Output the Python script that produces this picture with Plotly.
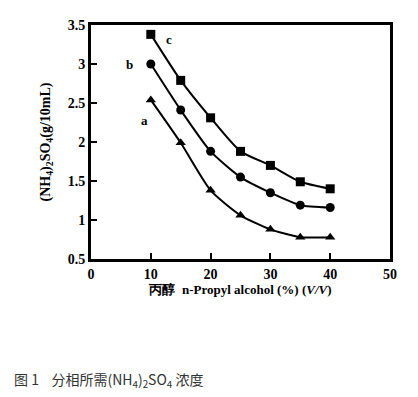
import plotly.graph_objects as go

x_vals = [10, 15, 20, 25, 30, 35, 40]
series_a = [2.54, 1.99, 1.38, 1.06, 0.88, 0.78, 0.78]
series_b = [3.00, 2.41, 1.88, 1.55, 1.35, 1.19, 1.16]
series_c = [3.38, 2.79, 2.31, 1.88, 1.70, 1.49, 1.40]
x_ticks = [0, 10, 20, 30, 40, 50]
y_ticks = [0.5, 1, 1.5, 2, 2.5, 3, 3.5]
y_tick_text = ["0.5", "1", "1.5", "2", "2.5", "3", "3.5"]

font_serif = "Liberation Serif, Times New Roman, serif"

fig = go.Figure()
for ys, sym in [(series_c, "square"), (series_b, "circle"), (series_a, "triangle-up")]:
    fig.add_trace(go.Scatter(
        x=x_vals, y=ys, mode="lines+markers",
        line=dict(color="black", width=2, shape="spline", smoothing=0.6),
        marker=dict(symbol=sym, size=9, color="black"),
        showlegend=False, hoverinfo="skip"))

for txt, xx, yy in [("c", 13, 3.32), ("b", 6.5, 3.0), ("a", 9, 2.28)]:
    fig.add_annotation(x=xx, y=yy, text="<b>" + txt + "</b>", showarrow=False,
                       font=dict(family=font_serif, size=13, color="black"))

fig.update_xaxes(range=[0, 50], tickvals=x_ticks, ticks="inside", ticklen=6, tickwidth=2,
                 tickcolor="black", showline=True, linewidth=3, linecolor="black",
                 mirror=True, showgrid=False, zeroline=False, automargin=False,
                 tickfont=dict(family=font_serif, size=14, color="black", weight="bold"),
                 title=dict(text="<b>丙醇  n-Propyl alcohol (%) (<i>V/V</i>)</b>",
                            font=dict(family=font_serif, size=13, color="black"), standoff=4))
fig.update_yaxes(range=[0.5, 3.5], tickvals=y_ticks, ticktext=y_tick_text, ticks="inside",
                 ticklen=6, tickwidth=2, tickcolor="black", showline=True, linewidth=3,
                 linecolor="black", mirror=True, showgrid=False, zeroline=False, automargin=False,
                 tickfont=dict(family=font_serif, size=14, color="black", weight="bold"),
                 title=dict(text="<b>(NH<sub>4</sub>)<sub>2</sub>SO<sub>4</sub>(g/10mL)</b>",
                            font=dict(family=font_serif, size=14, color="black"), standoff=14))

fig.add_annotation(xref="paper", yref="paper", x=-0.264, y=-0.517, xanchor="left", yanchor="middle",
                   text="图 1    分相所需(NH<sub>4</sub>)<sub>2</sub>SO<sub>4</sub> 浓度", showarrow=False,
                   font=dict(family="Noto Sans CJK SC, serif", size=14, color="#333"))

fig.update_layout(width=410, height=389, margin=dict(l=83, r=28, t=17, b=138),
                  plot_bgcolor="white", paper_bgcolor="white")
fig.write_html("out.html")
